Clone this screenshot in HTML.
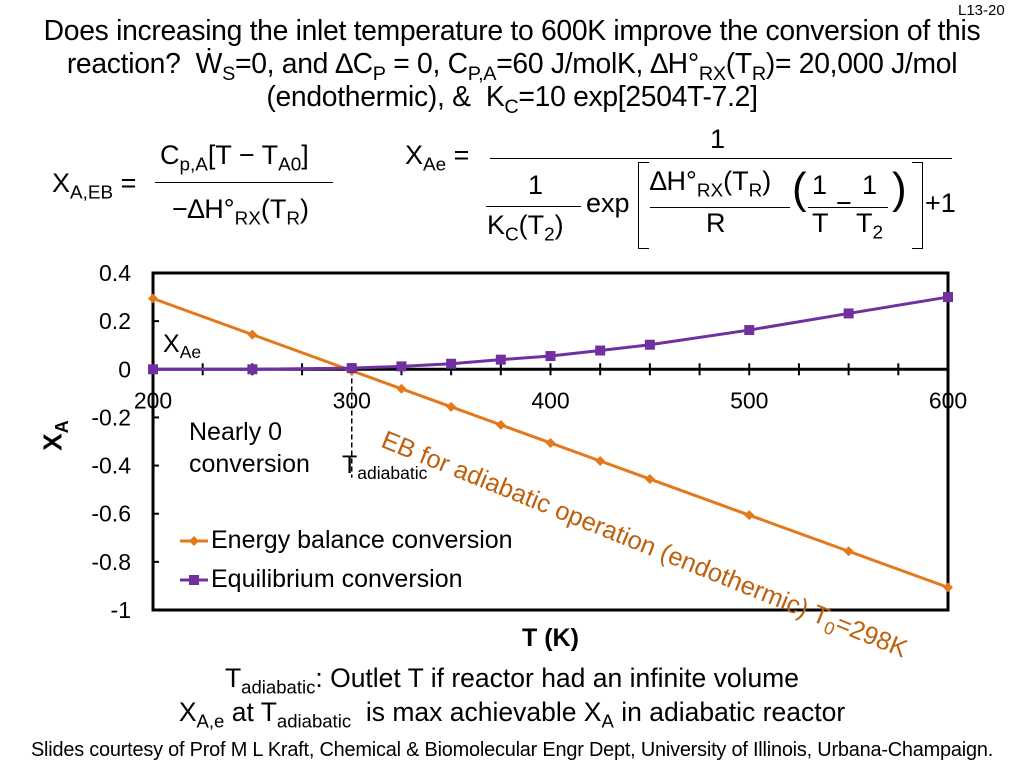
<!DOCTYPE html>
<html><head><meta charset="utf-8"><style>
body{margin:0;width:1024px;height:768px;background:#fff;font-family:"Liberation Sans",sans-serif;position:relative;overflow:hidden}
.t{position:absolute;white-space:nowrap;color:#000}
sub{font-size:70%;vertical-align:-0.35em;line-height:0}
</style></head><body>
<div class="t" style="left:958px;top:2px;font-size:15px">L13-20</div>
<div class="t" style="left:0;width:1024px;top:14px;font-size:28.3px;text-align:center;line-height:33px;letter-spacing:-0.3px">Does increasing the inlet temperature to 600K improve the conversion of this<br>reaction?&nbsp; Ẇ<sub>S</sub>=0, and ∆C<sub>P</sub> = 0, C<sub>P,A</sub>=60 J/molK, ∆H°<sub>RX</sub>(T<sub>R</sub>)= 20,000 J/mol<br>(endothermic), &amp;&nbsp; K<sub>C</sub>=10 exp[2504T-7.2]</div>
<div>
<div class="t" style="left:52px;top:168px;font-size:27px">X<sub>A,EB</sub> =</div>
<div class="t" style="left:160px;top:140px;font-size:27px">C<sub>p,A</sub>[T − T<sub>A0</sub>]</div>
<div style="position:absolute;left:155px;top:182px;width:178px;border-top:1px solid #000"></div>
<div class="t" style="left:172px;top:194px;font-size:27px">−∆H°<sub>RX</sub>(T<sub>R</sub>)</div>
</div>
<div>
<div class="t" style="left:405px;top:140px;font-size:27px">X<sub>Ae</sub> =</div>
<div class="t" style="left:710px;top:124px;font-size:27px">1</div>
<div style="position:absolute;left:490px;top:158px;width:462px;border-top:1px solid #000"></div>
<div class="t" style="left:528px;top:170px;font-size:27px">1</div>
<div style="position:absolute;left:486px;top:206px;width:95px;border-top:1px solid #000"></div>
<div class="t" style="left:487px;top:210px;font-size:27px">K<sub>C</sub>(T<sub>2</sub>)</div>
<div class="t" style="left:586px;top:188px;font-size:27px">exp</div>
<div style="position:absolute;left:638px;top:162px;width:10px;height:85px;border:1px solid #000;border-right:none"></div>
<div style="position:absolute;left:912px;top:162px;width:10px;height:85px;border:1px solid #000;border-left:none"></div>
<div class="t" style="left:650px;top:166px;font-size:27px">∆H°<sub>RX</sub>(T<sub>R</sub>)</div>
<div style="position:absolute;left:650px;top:207px;width:140px;border-top:1px solid #000"></div>
<div class="t" style="left:706px;top:208px;font-size:27px">R</div>
<div class="t" style="left:792px;top:164px;font-size:44px;font-weight:100">(</div>
<div class="t" style="left:812px;top:170px;font-size:27px">1</div>
<div class="t" style="left:836px;top:188px;font-size:27px">−</div>
<div class="t" style="left:862px;top:170px;font-size:27px">1</div>
<div style="position:absolute;left:808px;top:207px;width:80px;border-top:1px solid #000"></div>
<div class="t" style="left:812px;top:208px;font-size:27px">T</div>
<div class="t" style="left:856px;top:208px;font-size:27px">T<sub>2</sub></div>
<div class="t" style="left:892px;top:164px;font-size:44px">)</div>
<div class="t" style="left:925px;top:188px;font-size:27px">+1</div>
</div>
<svg width="1024" height="768" style="position:absolute;left:0;top:0">
<g id="g"></g></svg>
<div class="t" style="left:38px;top:420px;font-size:26px;font-weight:bold;transform:rotate(-90deg);transform-origin:center">X<sub>A</sub></div>
<div class="t" style="left:522px;top:624px;font-size:25px;font-weight:bold">T (K)</div>
<div class="t" style="left:163px;top:330px;font-size:25px">X<sub>Ae</sub></div>
<div class="t" style="left:189px;top:416px;font-size:25px;line-height:32px">Nearly 0<br>conversion</div>
<div class="t" style="left:342px;top:451px;font-size:25px">T<sub>adiabatic</sub></div>
<div class="t" style="left:388px;top:426px;font-size:25.5px;color:#c0600c;transform:rotate(22deg);transform-origin:0 0">EB for adiabatic operation (endothermic) T<sub>0</sub>=298K</div>
<div class="t" style="left:211px;top:526px;font-size:25px">Energy balance conversion</div>
<div class="t" style="left:211px;top:565px;font-size:25px">Equilibrium conversion</div>
<div class="t" style="left:0;width:1024px;text-align:center;top:663px;font-size:26.5px">T<sub>adiabatic</sub>: Outlet T if reactor had an infinite volume</div>
<div class="t" style="left:0;width:1024px;text-align:center;top:697px;font-size:26.5px">X<sub>A,e</sub> at T<sub>adiabatic</sub>&nbsp; is max achievable X<sub>A</sub> in adiabatic reactor</div>
<div class="t" style="left:0;width:1024px;text-align:center;top:739px;font-size:19.9px;letter-spacing:-0.2px">Slides courtesy of Prof M L Kraft, Chemical &amp; Biomolecular Engr Dept, University of Illinois, Urbana-Champaign.</div>
<script>
const temps=[200,250,300,325,350,375,400,425,450,500,550,600];
const ebValues=[0.294,0.144,-0.006,-0.081,-0.156,-0.231,-0.306,-0.381,-0.456,-0.606,-0.756,-0.906];
const eqValues=[0.0,0.0,0.005,0.012,0.023,0.04,0.055,0.078,0.102,0.163,0.232,0.30];
const xTicks=[200,300,400,500,600];
const yTicks=[0.4,0.2,0,-0.2,-0.4,-0.6,-0.8,-1];
const yTickLabels=["0.4","0.2","0","-0.2","-0.4","-0.6","-0.8","-1"];
const NS="http://www.w3.org/2000/svg",g=document.getElementById('g');
const L=153,R=948,T=273,B=610;
const sx=v=>L+(v-200)/400*(R-L), sy=v=>T+(0.4-v)/1.4*(B-T);
function mk(t,a){const e=document.createElementNS(NS,t);for(const k in a)e.setAttribute(k,a[k]);g.appendChild(e);return e;}
let e=mk('rect',{x:L,y:T,width:R-L,height:B-T,fill:'none',stroke:'#000','stroke-width':3});


e=mk('line',{x1:L,x2:R,y1:sy(0),y2:sy(0),stroke:'#000','stroke-width':3});


for(let t=200;t<=600;t+=25){e=mk('line',{x1:sx(t),x2:sx(t),y1:sy(0)-6,y2:sy(0)+6,stroke:'#000','stroke-width':2});

}
xTicks.forEach(t=>{e=mk('text',{x:sx(t),y:sy(0)+39,'text-anchor':'middle','font-size':23,'font-family':'Liberation Sans'});e.textContent=t;

});
yTicks.forEach((v,i)=>{e=mk('line',{x1:L,x2:L+6,y1:sy(v),y2:sy(v),stroke:'#000','stroke-width':2});


e=mk('text',{x:L-22,y:sy(v)+8,'text-anchor':'end','font-size':23,'font-family':'Liberation Sans'});e.textContent=yTickLabels[i];

});
e=mk('path',{d:`M${L} ${sy(0)}H${sx(300)}V${sy(-0.45)}`,fill:'none',stroke:'#000','stroke-width':1.5,'stroke-dasharray':'5,3'});


function series(vals,col,shape,name){
 e=mk('polyline',{points:temps.map((t,i)=>sx(t)+','+sy(vals[i])).join(' '),fill:'none',stroke:col,'stroke-width':3});
 
 
 temps.forEach((t,i)=>{const x=sx(t),y=sy(vals[i]);
  e=shape=='d'?mk('path',{d:`M${x} ${y-5}L${x+5} ${y}L${x} ${y+5}L${x-5} ${y}Z`,fill:col}):mk('rect',{x:x-5,y:y-5,width:10,height:10,fill:col});
  
  });
}
series(ebValues,'#e3791b','d','eb');
series(eqValues,'#7030a0','s','eq');
e=mk('line',{x1:180,x2:208,y1:541,y2:541,stroke:'#e3791b','stroke-width':3});


mk('path',{d:'M194 536L199 541L194 546L189 541Z',fill:'#e3791b'});
e=mk('line',{x1:180,x2:208,y1:580,y2:580,stroke:'#7030a0','stroke-width':3});


mk('rect',{x:189,y:575,width:10,height:10,fill:'#7030a0'});
</script>
</body></html>
